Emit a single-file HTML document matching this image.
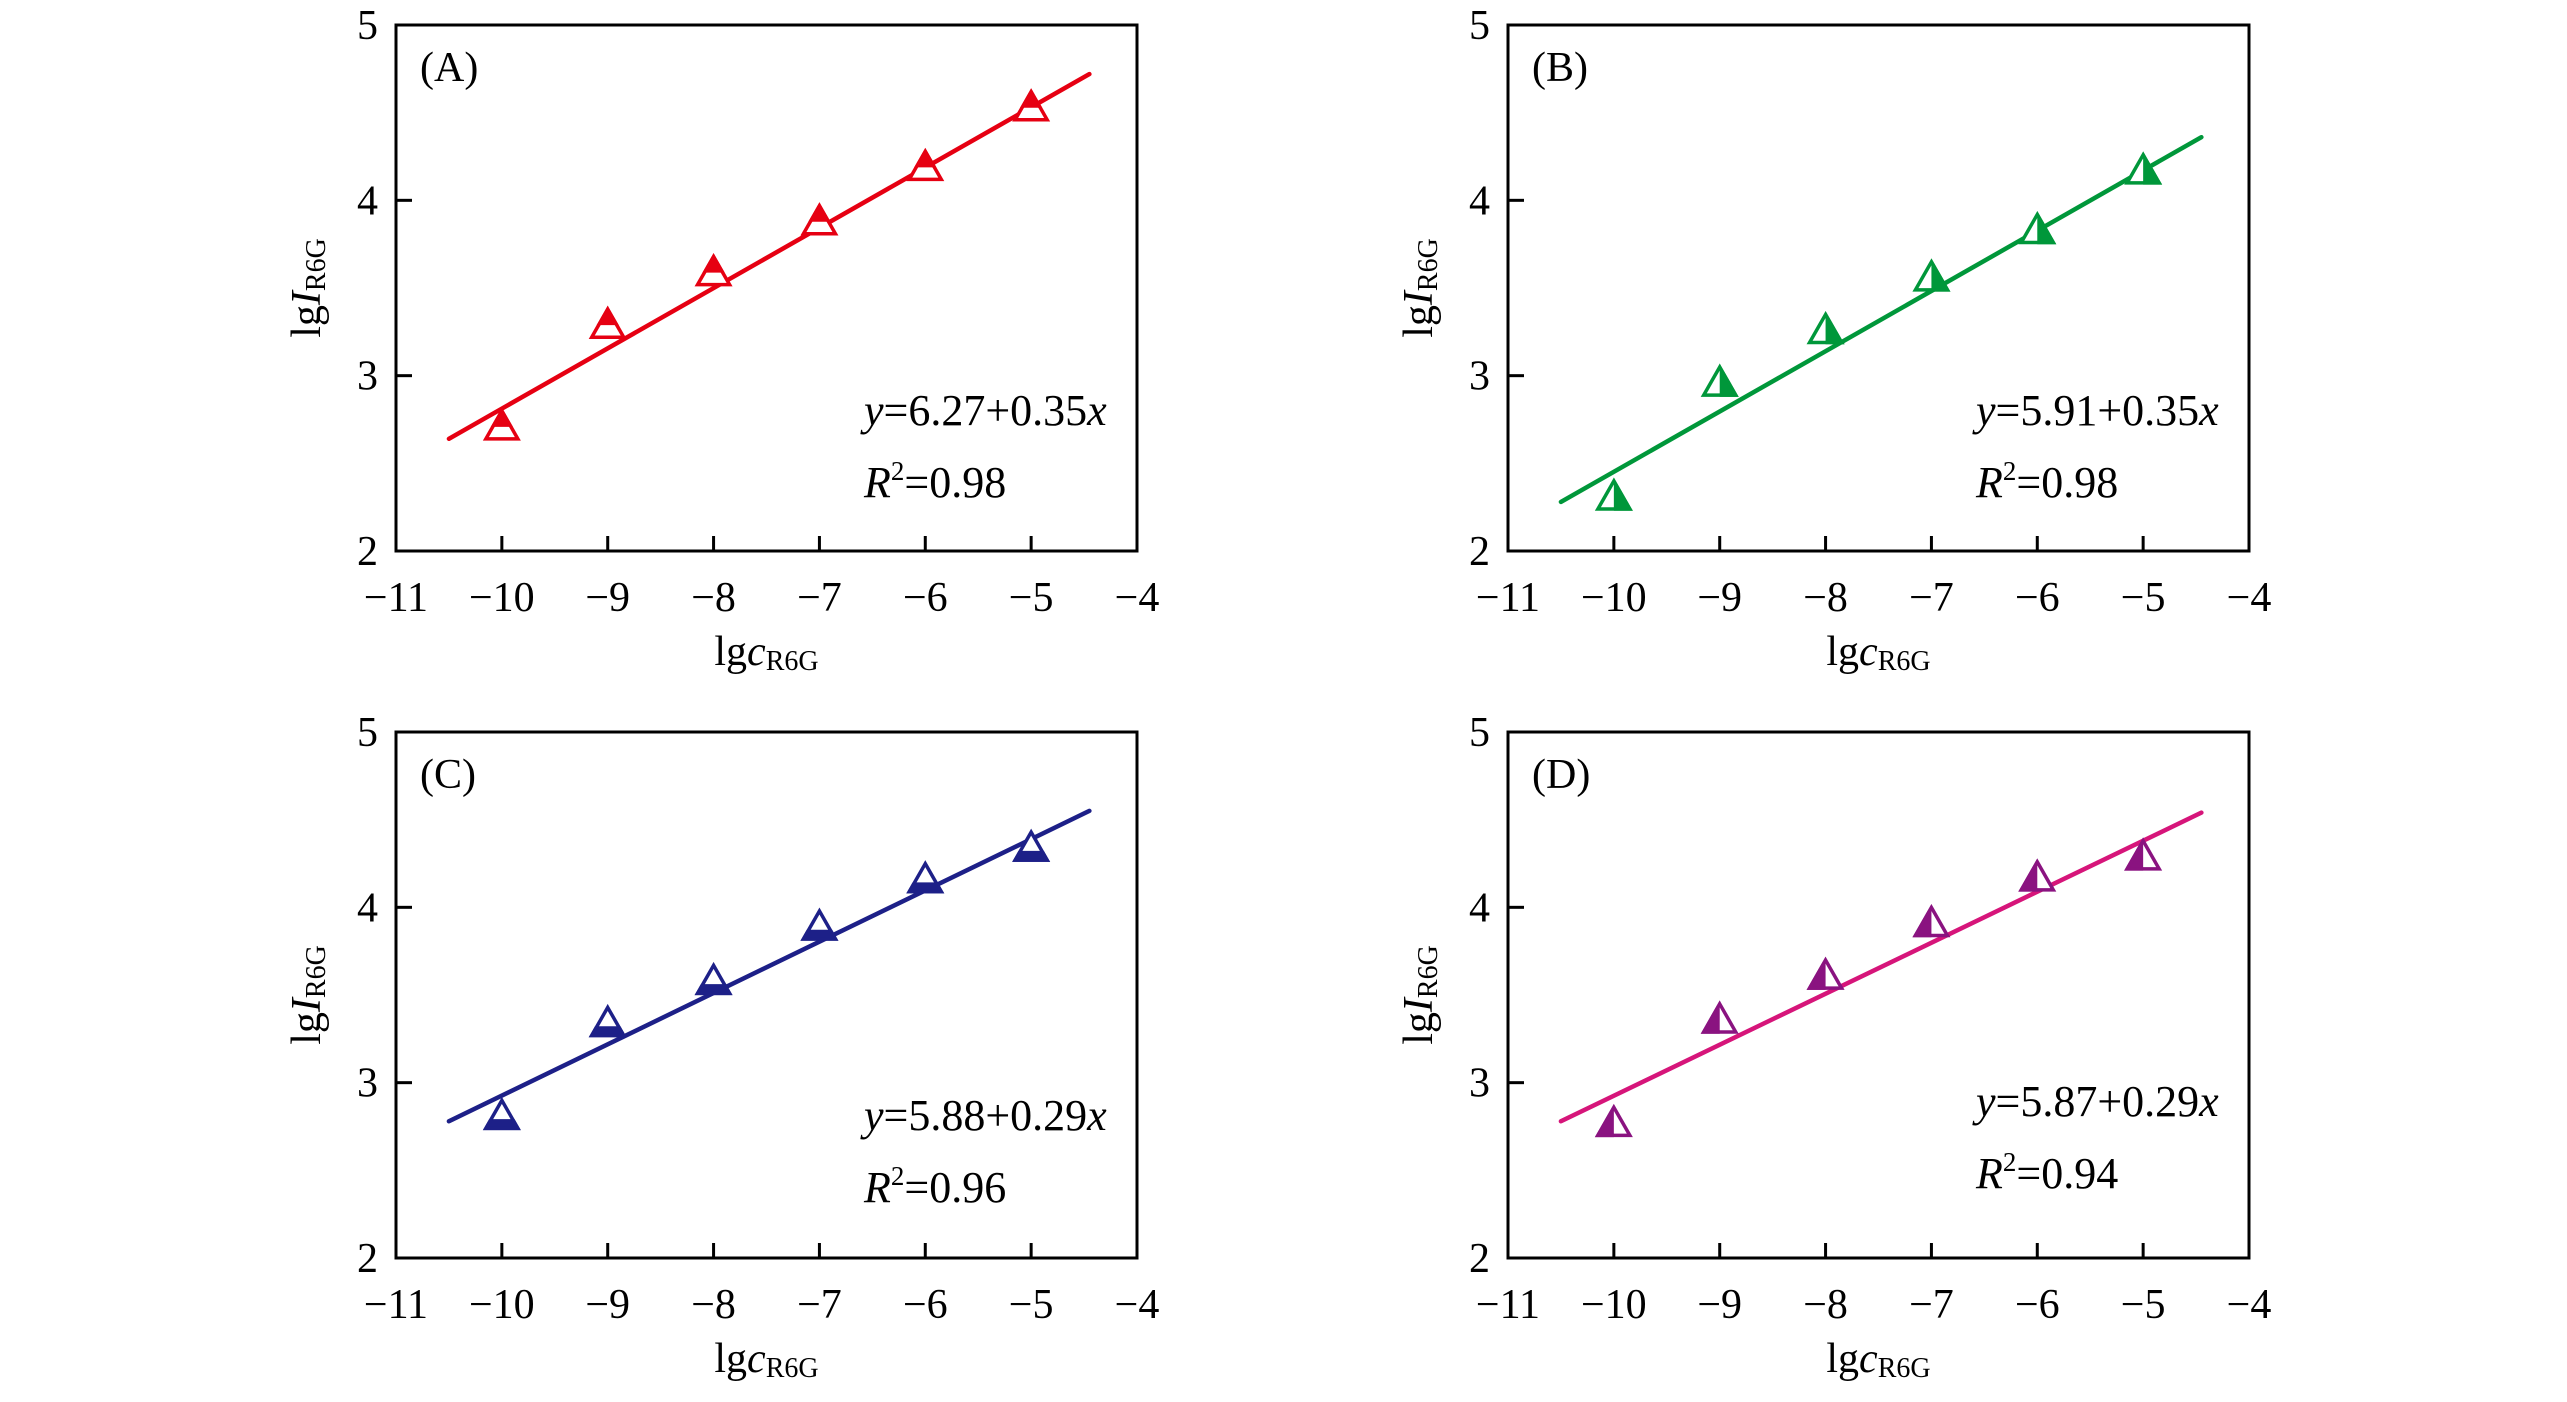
<!DOCTYPE html>
<html><head><meta charset="utf-8"><style>
html,body{margin:0;padding:0;background:#fff;}
svg{display:block;}
svg text{font-family:"Liberation Serif","Times New Roman",serif;}
</style></head><body>
<svg id="chart" width="2567" height="1402" viewBox="0 0 2567 1402" xmlns="http://www.w3.org/2000/svg"></svg>
<script>
const xTicks = [-11,-10,-9,-8,-7,-6,-5,-4];
const yTicks = [2,3,4,5];
const concentrations = [-10,-9,-8,-7,-6,-5];
const seriesA = [2.70,3.28,3.58,3.87,4.18,4.52];
const seriesB = [2.30,2.95,3.25,3.55,3.82,4.16];
const seriesC = [2.80,3.33,3.57,3.88,4.15,4.33];
const seriesD = [2.76,3.35,3.60,3.90,4.16,4.28];
const fitXRange = [-10.5,-4.45];
const fitA = [2.64,4.72];
const fitB = [2.28,4.36];
const fitC = [2.78,4.55];
const fitD = [2.78,4.54];
const labels = ["(A)","(B)","(C)","(D)"];
const equations = ["6.27+0.35","5.91+0.35","5.88+0.29","5.87+0.29"];
const r2Values = ["0.98","0.98","0.96","0.94"];

const panels = [
 {id:"a",x0:396,y0:25,data:seriesA,fit:fitA,line:"#e60012",mark:"#e60012",half:"top",eqDy:400},
 {id:"b",x0:1508,y0:25,data:seriesB,fit:fitB,line:"#00973a",mark:"#00973a",half:"right",eqDy:400},
 {id:"c",x0:396,y0:732,data:seriesC,fit:fitC,line:"#1d2088",mark:"#1d2088",half:"bottom",eqDy:398},
 {id:"d",x0:1508,y0:732,data:seriesD,fit:fitD,line:"#d6157a",mark:"#8a1380",half:"left",eqDy:384}
];
const W=741,H=526;
const NS="http://www.w3.org/2000/svg";
const FF='"Liberation Serif", serif';
const svg=document.getElementById('chart');
function mk(tag,attrs,parent){const e=document.createElementNS(NS,tag);for(const k in attrs)e.setAttribute(k,attrs[k]);if(tag==='text')e.setAttribute('font-family',FF);(parent||svg).appendChild(e);return e;}

panels.forEach((p,pi)=>{
  const g=mk('g',{});
  
  
  const sx=v=>p.x0+(v-(-11))/7*W;
  const sy=v=>p.y0+H-(v-2)/3*H;
  const frame=mk('rect',{x:p.x0,y:p.y0,width:W,height:H,fill:'none',stroke:'#000','stroke-width':3},g);
  
  
  xTicks.forEach(t=>{
    if(t>-11&&t<-4){const tk=mk('line',{x1:sx(t),x2:sx(t),y1:p.y0+H,y2:p.y0+H-15,stroke:'#000','stroke-width':3},g);
      
      }
    const tl=mk('text',{x:sx(t),y:p.y0+H+60,'font-size':42,'text-anchor':'middle'},g);
    tl.textContent=(t<0?'\u2212':'')+Math.abs(t);
    
    
  });
  yTicks.forEach(t=>{
    if(t>2&&t<5){const tk=mk('line',{x1:p.x0,x2:p.x0+16,y1:sy(t),y2:sy(t),stroke:'#000','stroke-width':3},g);
      
      }
    const tl=mk('text',{x:p.x0-18,y:sy(t)+14,'font-size':42,'text-anchor':'end'},g);
    tl.textContent=t;
    
    
  });
  const xt=mk('text',{x:p.x0+W/2,y:p.y0+H+114,'font-size':42,'text-anchor':'middle'},g);
  xt.innerHTML='lg<tspan font-style="italic">c</tspan><tspan font-size="28" dy="5">R6G</tspan>';
  
  
  const yt=mk('text',{x:0,y:0,'font-size':42,'text-anchor':'middle',transform:`translate(${p.x0-76},${p.y0+H/2}) rotate(-90)`},g);
  yt.innerHTML='lg<tspan font-style="italic">I</tspan><tspan font-size="28" dy="5">R6G</tspan>';
  
  
  const lb=mk('text',{x:p.x0+24,y:p.y0+56,'font-size':42},g);
  lb.textContent=labels[pi];
  
  
  const fl=mk('line',{x1:sx(fitXRange[0]),y1:sy(p.fit[0]),x2:sx(fitXRange[1]),y2:sy(p.fit[1]),stroke:p.line,'stroke-width':4.5,'stroke-linecap':'round'},g);
  
  
  const cid='clip'+p.id;
  const defs=mk('defs',{},g);
  p.data.forEach((v,i)=>{
    const cx=sx(concentrations[i]), cy=sy(v);
    const w=32,h=28;
    const pts=`${cx},${cy-h*0.62} ${cx+w/2},${cy+h*0.38} ${cx-w/2},${cy+h*0.38}`;
    const mg=mk('g',{},g);
    
    
    const clipId=cid+'-'+i;
    const c=mk('clipPath',{id:clipId},defs);
    let r;
    if(p.half==='top') r={x:cx-w,y:cy-h,width:2*w,height:h*0.95};
    else if(p.half==='bottom') r={x:cx-w,y:cy+h*0.05,width:2*w,height:h};
    else if(p.half==='left') r={x:cx-w,y:cy-h,width:w,height:2*h};
    else r={x:cx,y:cy-h,width:w,height:2*h};
    mk('rect',r,c);
    mk('polygon',{points:pts,fill:'#fff',stroke:p.mark,'stroke-width':3.5,'stroke-linejoin':'miter'},mg);
    mk('polygon',{points:pts,fill:p.mark,stroke:p.mark,'stroke-width':3.5,'clip-path':`url(#${clipId})`},mg);
  });
  const eq=mk('text',{x:p.x0+468,y:p.y0+p.eqDy,'font-size':44},g);
  eq.innerHTML='<tspan font-style="italic">y</tspan>='+equations[pi]+'<tspan font-style="italic">x</tspan>';
  
  
  const r2=mk('text',{x:p.x0+468,y:p.y0+p.eqDy+72,'font-size':44},g);
  r2.innerHTML='<tspan font-style="italic">R</tspan><tspan font-size="27" dy="-17">2</tspan><tspan dy="17">='+r2Values[pi]+'</tspan>';
  
  
});
</script>
</body></html>
